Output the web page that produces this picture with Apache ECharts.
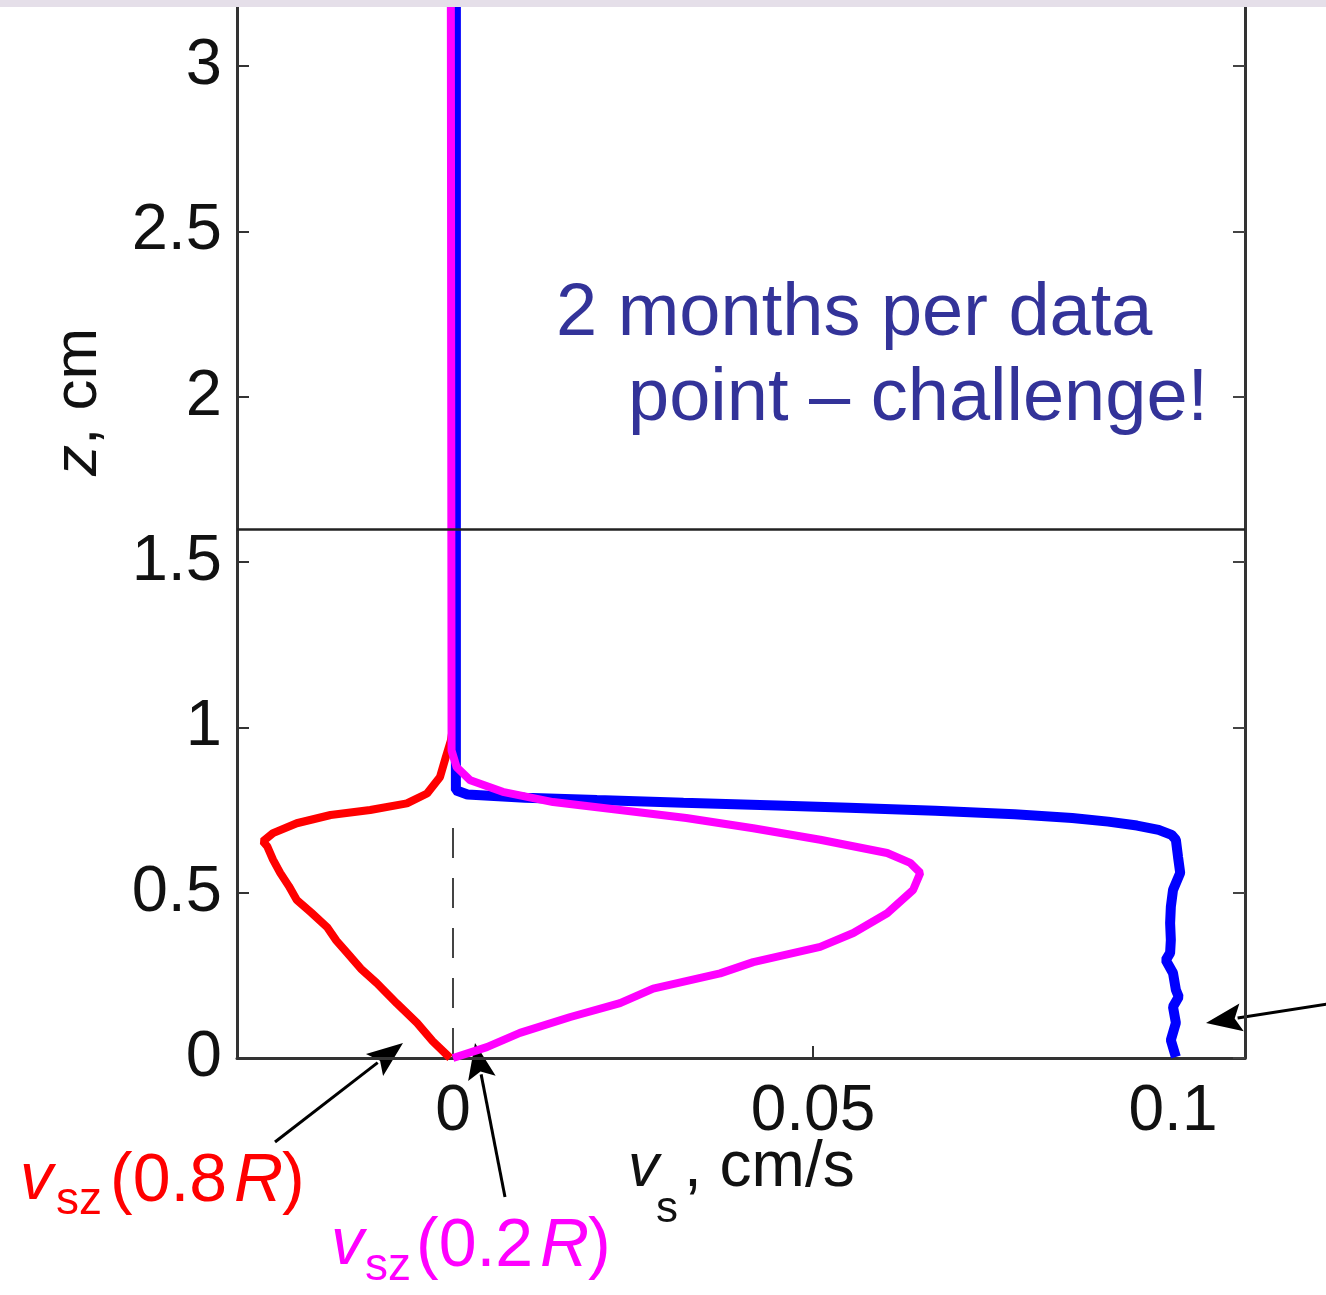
<!DOCTYPE html>
<html>
<head>
<meta charset="utf-8">
<script src="https://cdn.jsdelivr.net/npm/echarts@6/dist/echarts.min.js"></script>
<style>
html,body{margin:0;padding:0;background:#fff;}
#chart{width:1326px;height:1295px;}
</style>
</head>
<body>
<div id="chart"></div>
<script>
// ---- data (v in cm/s, z in cm) ----
const xTicks = [0, 0.05, 0.1];
const yTicks = [0, 0.5, 1, 1.5, 2, 2.5, 3];
const interfaceZ = 1.6;
const dashedZeroTop = 0.72;

const red08R = [
  [-0.0004,0],[-0.0028,0.05],[-0.005,0.106],[-0.0078,0.165],[-0.0106,0.227],[-0.0128,0.27],
  [-0.0147,0.318],[-0.0162,0.355],[-0.0175,0.396],[-0.0197,0.44],[-0.0217,0.478],[-0.0228,0.52],
  [-0.024,0.56],[-0.025,0.6],[-0.0258,0.64],[-0.0264,0.655],[-0.025,0.68],[-0.0217,0.71],
  [-0.017,0.735],[-0.0115,0.75],[-0.0064,0.77],[-0.0036,0.80],[-0.0018,0.85],[-0.001,0.91],
  [-0.0003,0.96],[0,1.0],[0,3.2]
];
const magenta02R = [
  [0,0],[0.0047,0.033],[0.0093,0.076],[0.0163,0.124],[0.0232,0.166],[0.0278,0.21],
  [0.0371,0.256],[0.0417,0.29],[0.051,0.336],[0.0556,0.378],[0.0603,0.438],[0.0639,0.508],
  [0.0649,0.56],[0.0635,0.59],[0.0603,0.62],[0.051,0.66],[0.0417,0.695],[0.0324,0.726],
  [0.0232,0.75],[0.0139,0.774],[0.0069,0.805],[0.0024,0.84],[0.0005,0.88],[-0.0002,0.93],
  [-0.0003,3.2]
];
const blueCenter = [
  [0.1004,0.003],[0.0997,0.054],[0.1004,0.106],[0.1,0.155],[0.1008,0.185],[0.1004,0.206],
  [0.1,0.257],[0.099,0.296],[0.0996,0.318],[0.0997,0.357],[0.0996,0.408],[0.0997,0.457],
  [0.1,0.508],[0.101,0.56],[0.1007,0.608],[0.1004,0.66],[0.0998,0.675],[0.098,0.69],
  [0.095,0.703],[0.091,0.715],[0.086,0.726],[0.078,0.737],[0.067,0.748],[0.055,0.757],
  [0.045,0.764],[0.032,0.772],[0.02,0.78],[0.01,0.787],[0.002,0.797],[0.0004,0.81],[0.0004,3.2]
];

const FONT = '"Liberation Sans", Arial, Helvetica, sans-serif';
const chart = echarts.init(document.getElementById('chart'), null, {renderer:'canvas'});

function arrow(x1,y1,x2,y2){
  const dx=x2-x1, dy=y2-y1, L=Math.hypot(dx,dy), ux=dx/L, uy=dy/L;
  const hl=36, hw=14;
  const bx=x2-ux*hl, by=y2-uy*hl;
  return [
    {type:'line', shape:{x1:x1,y1:y1,x2:bx+ux*4,y2:by+uy*4}, style:{stroke:'#000',lineWidth:3}},
    {type:'polygon', shape:{points:[[x2,y2],[bx-uy*hw,by+ux*hw],[bx+ux*7,by+uy*7],[bx+uy*hw,by-ux*hw]]}, style:{fill:'#000'}}
  ];
}
function txt(x,y,text,size,color,italic,extra){
  return Object.assign({type:'text', x:x, y:y, style:{text:text, fill:color,
    font:(italic?'italic ':'')+size+'px '+FONT, textAlign:'left', textVerticalAlign:'bottom'}}, extra||{});
}

const option = {
  backgroundColor:'#ffffff',
  animation:false,
  grid:{left:237, right:81, top:0, bottom:237, containLabel:false},
  xAxis:{
    type:'value', min:-0.03, max:0.11,
    axisLine:{show:true, onZero:false, lineStyle:{color:'#333', width:3}},
    axisTick:{show:true, inside:true, length:12, customValues:xTicks, lineStyle:{color:'#333', width:2}},
    axisLabel:{show:true, customValues:xTicks, fontSize:64, fontFamily:FONT, color:'#111', margin:22,
      formatter:v=>String(+v.toFixed(2))},
    splitLine:{show:false}
  },
  yAxis:[{
    type:'value', min:0, max:3.2, interval:0.5, position:'left',
    axisLine:{show:true, onZero:false, lineStyle:{color:'#333', width:3}},
    axisTick:{show:true, inside:true, length:12, lineStyle:{color:'#333', width:2}},
    axisLabel:{show:true, fontSize:65, fontFamily:FONT, color:'#111', margin:15, showMaxLabel:false,
      formatter:v=>(v>3.05?'':String(v))},
    splitLine:{show:false}
  },{
    type:'value', min:0, max:3.2, interval:0.5, position:'right',
    axisLine:{show:true, onZero:false, lineStyle:{color:'#333', width:3}},
    axisTick:{show:true, inside:true, length:12, lineStyle:{color:'#444', width:2}},
    axisLabel:{show:false}, splitLine:{show:false}
  }],
  series:[
    {type:'line', name:'zero', data:[[0,0],[0,dashedZeroTop]], symbol:'none', silent:true, z:1,
      lineStyle:{color:'#444', width:2, type:[30,20], dashOffset:0},
      markLine:{silent:true, symbol:['none','none'], label:{show:false},
        lineStyle:{color:'#222', width:2.5, type:'solid'}, data:[{yAxis:interfaceZ}]}},
    {type:'line', name:'v_sz(0.8R)', data:red08R, symbol:'none', z:2, lineStyle:{color:'#ff0000', width:8}},
    {type:'line', name:'v_s(centre)', data:blueCenter, symbol:'none', z:3, lineStyle:{color:'#0000ff', width:10}},
    {type:'line', name:'v_sz(0.2R)', data:magenta02R, symbol:'none', z:4, lineStyle:{color:'#ff00ff', width:8}}
  ],
  graphic:[
    {type:'rect', shape:{x:0,y:0,width:1326,height:7}, style:{fill:'#e5dfe9'}, z:100},
    // annotation
    txt(556,352,'2 months per data',74,'#333399',false),
    txt(628,437,'point \u2013 challenge!',74,'#333399',false),
    // y axis title rotated
    {type:'group', x:110, y:476, rotation:Math.PI/2, children:[
      txt(0,0,'z',62,'#111',true),
      txt(31,0,', cm',62,'#111',false)
    ]},
    // x axis title
    txt(628,1200,'v',62,'#111',true),
    txt(656,1232,'s',44,'#111',false),
    txt(684,1200,', cm/s',64,'#111',false),
    // red label
    txt(20,1214,'v',66,'#ff0000',true),
    txt(56,1224,'sz',46,'#ff0000',false),
    txt(110,1216,'(0.8',68,'#ff0000',false),
    txt(234,1216,'R',68,'#ff0000',true),
    txt(282,1216,')',68,'#ff0000',false),
    // magenta label
    txt(331,1279,'v',66,'#ff00ff',true),
    txt(365,1290,'sz',46,'#ff00ff',false),
    txt(416,1281,'(0.2',68,'#ff00ff',false),
    txt(540,1281,'R',68,'#ff00ff',true),
    txt(588,1281,')',68,'#ff00ff',false)
  ].concat(arrow(275,1142,403,1043), arrow(505,1197,475,1043), arrow(1340,1002,1206,1023))
};
chart.setOption(option);
</script>
</body>
</html>
